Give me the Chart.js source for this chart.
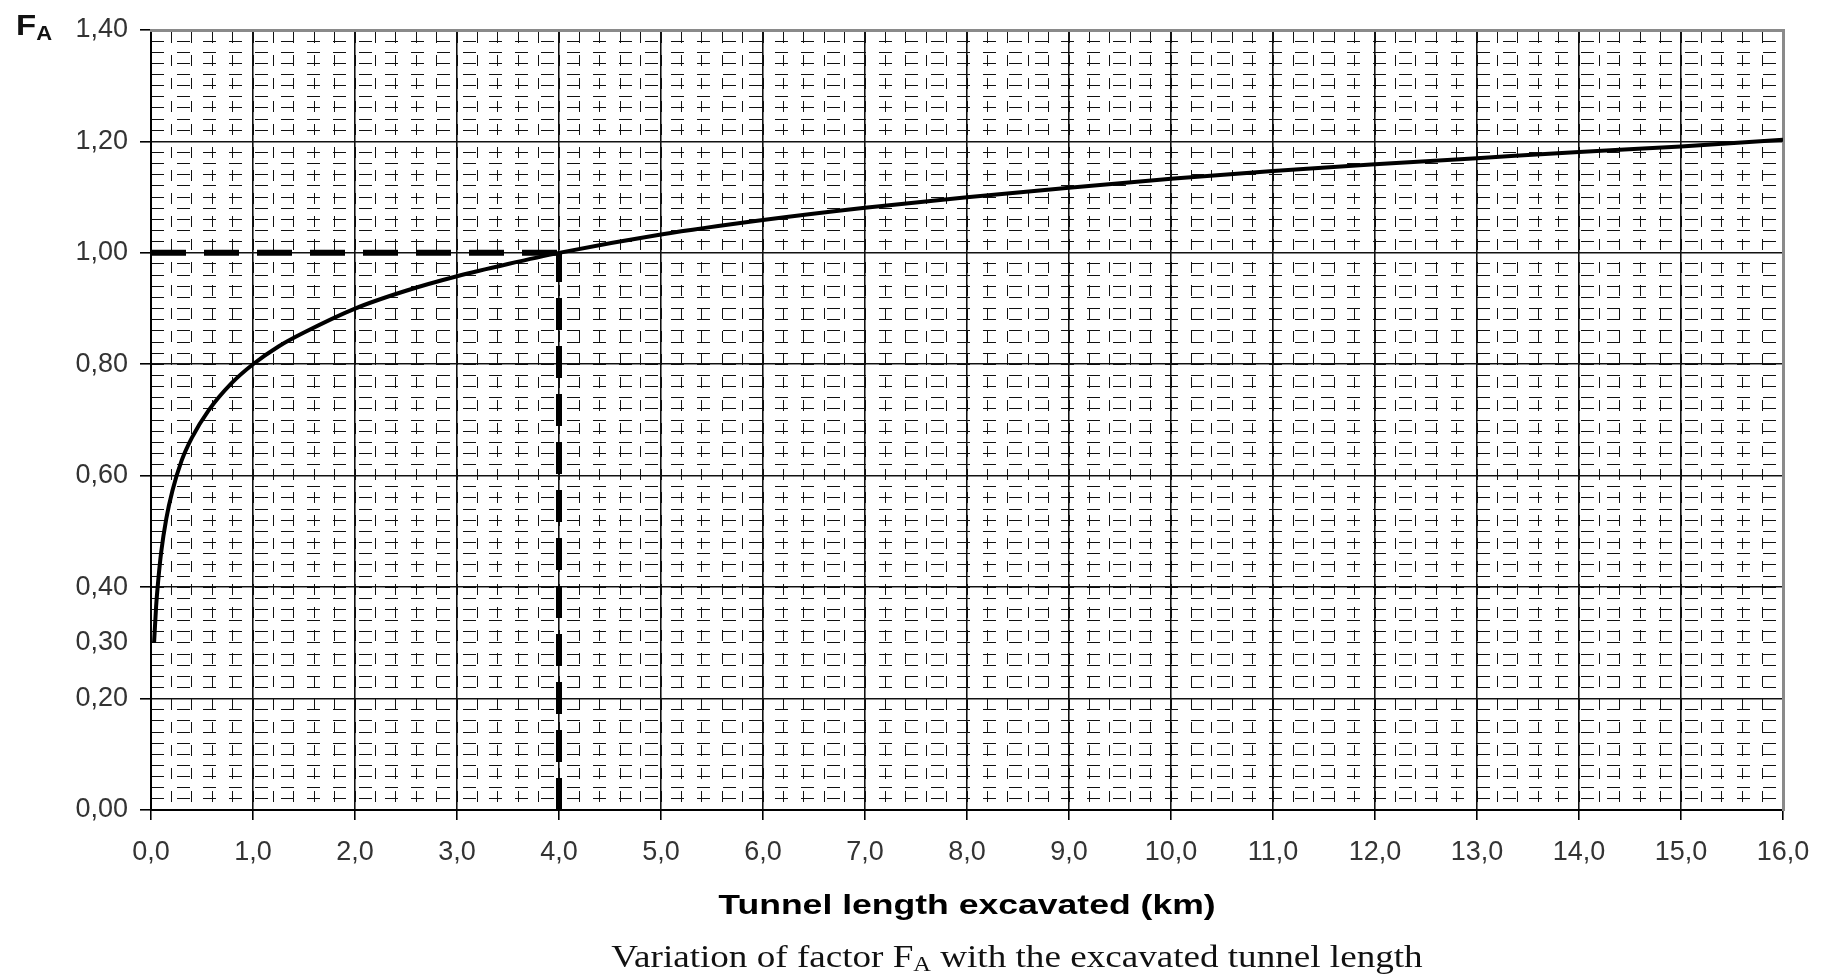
<!DOCTYPE html>
<html>
<head>
<meta charset="utf-8">
<title>Factor FA vs tunnel length</title>
<script src="https://cdn.jsdelivr.net/npm/chart.js@4"></script>
<style>
  html, body { margin: 0; padding: 0; background: #fff; }
  #wrap { position: relative; width: 1827px; height: 979px; }
  .txt { position: absolute; white-space: nowrap; line-height: 1; }
  #fa {
    left: 16px; top: 8px; transform-origin: 0 0; transform: scaleX(1.1);
    font: bold 30px "Liberation Sans", Arial, sans-serif; color: #111;
  }
  #fa sub { font-size: 20px; vertical-align: -5px; }
  #xtitle {
    left: 967px; top: 889px; transform: translateX(-50%) scaleX(1.27);
    font: bold 28px "Liberation Sans", Arial, sans-serif; color: #000;
  }
  #caption {
    left: 1017px; top: 938px; transform: translateX(-50%) scaleX(1.16);
    font: 32px "Liberation Serif", "Times New Roman", serif; color: #111;
  }
  #caption sub { font-size: 21px; vertical-align: -4px; }
</style>
</head>
<body>
<div id="wrap">
  <canvas id="myChart"></canvas>
  <div id="fa" class="txt">F<sub>A</sub></div>
  <div id="xtitle" class="txt">Tunnel length excavated (km)</div>
  <div id="caption" class="txt">Variation of factor F<sub>A</sub> with the excavated tunnel length</div>
</div>
<script>
// excavated length (km) and factor FA along the curve
const lengthKm = [0.03, 0.05, 0.07, 0.10, 0.15, 0.21, 0.30, 0.40, 0.56, 0.79, 1.00, 1.25, 1.50, 2.00, 2.50, 3.00, 3.50, 4.00,
                  5.00, 6.00, 7.00, 8.00, 9.00, 10.0, 11.0, 12.0, 13.0, 14.0, 15.0, 16.0];
const factorFA = [0.30, 0.365, 0.41, 0.463, 0.523, 0.573, 0.627, 0.668, 0.716, 0.766, 0.80, 0.832, 0.857, 0.90, 0.932, 0.958, 0.98, 1.00,
                  1.033, 1.059, 1.081, 1.10, 1.117, 1.133, 1.147, 1.159, 1.170, 1.181, 1.191, 1.203];

// reading example: 4 km -> FA = 1,00
const refLength = 4.0;
const refFactor = 1.0;

const yTickValues = [0, 0.2, 0.3, 0.4, 0.6, 0.8, 1.0, 1.2, 1.4];

const comma = (v, d) => Number(v).toFixed(d).replace(".", ",");

const myChart = document.getElementById("myChart");

const pintarGrafica = () => {
  new Chart(myChart, {
    type: "scatter",
    data: {
      datasets: [
        {
          label: "FA",
          data: lengthKm.map((x, i) => ({ x: x, y: factorFA[i] })),
          showLine: true,
          borderColor: "#000",
          borderWidth: 4,
          pointRadius: 0,
          cubicInterpolationMode: "monotone",
        },
        {
          label: "ref h",
          data: [{ x: 0, y: refFactor }, { x: refLength, y: refFactor }],
          showLine: true,
          borderColor: "#000",
          borderWidth: 6,
          borderDash: [35, 18],
          borderCapStyle: "butt",
          pointRadius: 0,
        },
        {
          label: "ref v",
          data: [{ x: refLength, y: 0 }, { x: refLength, y: refFactor }],
          showLine: true,
          borderColor: "#000",
          borderWidth: 6,
          borderDash: [32, 16],
          borderCapStyle: "butt",
          pointRadius: 0,
        },
      ],
    },
    options: {
      responsive: true,
      maintainAspectRatio: false,
      animation: false,
      layout: { padding: { left: 0, top: 30, right: 44, bottom: 59 } },
      plugins: { legend: { display: false }, tooltip: { enabled: false } },
      scales: {
        x: {
          type: "linear",
          position: "bottom",
          min: 0,
          max: 16,
          afterFit: (s) => { s.height = 110; },
          ticks: {
            stepSize: 1,
            padding: 16,
            color: "#333",
            font: { family: "'Liberation Sans', Arial", size: 27 },
            callback: (v) => comma(v, 1),
          },
          grid: { color: "#111", lineWidth: 1.6, tickLength: 10, tickColor: "#000", tickWidth: 1.6 },
          border: { color: "#000", width: 2 },
        },
        y: {
          type: "linear",
          position: "left",
          min: 0,
          max: 1.4,
          afterFit: (s) => { s.width = 151; },
          afterBuildTicks: (axis) => { axis.ticks = yTickValues.map((v) => ({ value: v })); },
          ticks: {
            padding: 12,
            color: "#333",
            font: { family: "'Liberation Sans', Arial", size: 27 },
            callback: (v) => comma(v, 2),
          },
          grid: {
            color: (c) => (c.tick && c.tick.value === 0.3 ? "rgba(0,0,0,0)" : "#111"),
            tickColor: (c) => (c.tick && c.tick.value === 0.3 ? "rgba(0,0,0,0)" : "#000"),
            lineWidth: 1.6,
            tickLength: 11,
            tickWidth: 1.6,
          },
          border: { color: "#000", width: 2 },
        },
        // fine dashed grid, every 0,2 km
        xMinor: {
          type: "linear",
          display: true,
          position: "top",
          min: 0,
          max: 16,
          afterFit: (s) => { s.height = 0; },
          ticks: { display: false, stepSize: 0.2 },
          grid: { color: "#111", lineWidth: 1, drawTicks: false, z: -2 },
          border: { color: "#8a8a8a", width: 3, dash: [11, 12] },
        },
        // fine dashed grid, every 0,02
        yMinor: {
          type: "linear",
          display: true,
          position: "right",
          min: 0,
          max: 1.4,
          afterFit: (s) => { s.width = 0; },
          ticks: { display: false, stepSize: 0.02 },
          grid: { color: "#111", lineWidth: 1, drawTicks: false, z: -2 },
          border: { color: "#8a8a8a", width: 3, dash: [13, 13] },
        },
      },
    },
  });
};

window.addEventListener("load", pintarGrafica);
</script>
</body>
</html>
